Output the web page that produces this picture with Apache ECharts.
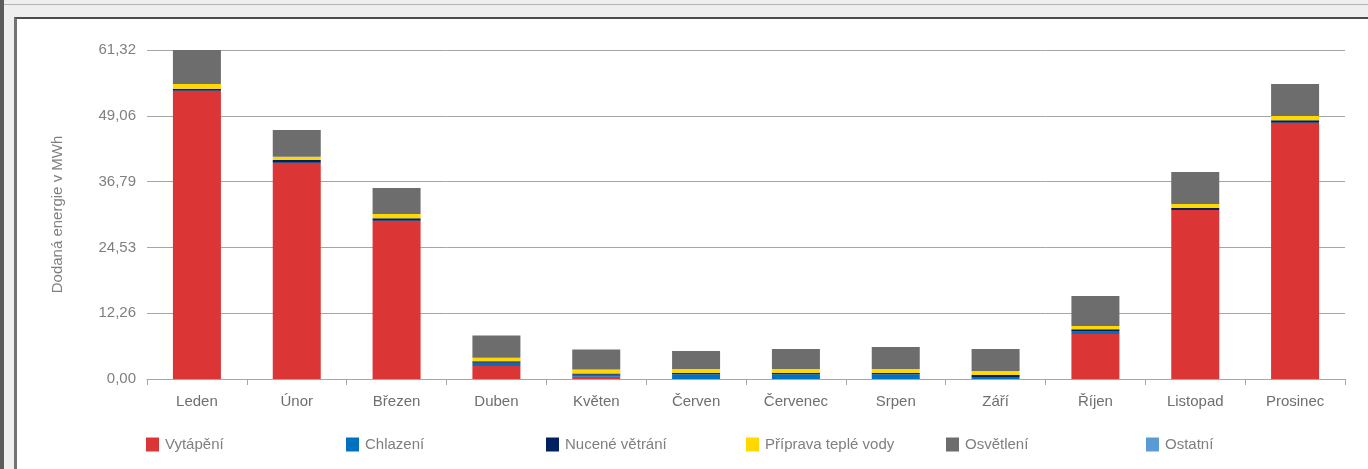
<!DOCTYPE html>
<html lang="cs">
<head>
<meta charset="utf-8">
<title>Dodaná energie v MWh</title>
<script src="https://cdn.jsdelivr.net/npm/echarts@6/dist/echarts.min.js"></script>
<style>
  html, body { margin: 0; padding: 0; width: 1368px; height: 469px; overflow: hidden; background: #efefef; }
  #edgeLeft { position: absolute; left: 0; top: 0; width: 4px; height: 469px; background: #5c5c5c; }
  #edgeTop { position: absolute; left: 4px; top: 4px; width: 1364px; height: 1px; background: #b4b4b4; }
  #panel { position: absolute; left: 14px; top: 17px; right: 0; bottom: 0; background: #fff;
           border-left: 3px solid #737373; border-top: 2px solid #4d4d4d; }
  #chart { position: absolute; left: 0; top: 0; width: 1368px; height: 469px; }
</style>
</head>
<body>
<div id="edgeLeft"></div>
<div id="edgeTop"></div>
<div id="panel"></div>
<div id="chart"></div>
<script>
// Měsíce
const months = ['Leden', 'Únor', 'Březen', 'Duben', 'Květen', 'Červen',
                'Červenec', 'Srpen', 'Září', 'Říjen', 'Listopad', 'Prosinec'];

// Dodaná energie podle účelu [MWh]
const vytapeni      = [53.74, 40.32, 29.50, 2.40, 0.40, 0.00, 0.00, 0.00, 0.00, 8.40, 31.50, 47.77];
const chlazeni      = [0.00, 0.00, 0.00, 0.62, 0.37, 0.90, 0.90, 0.90, 0.37, 0.56, 0.00, 0.00];
const nuceneVetrani = [0.37, 0.50, 0.44, 0.30, 0.25, 0.20, 0.20, 0.20, 0.37, 0.31, 0.37, 0.44];
const pripravaTV    = [0.87, 0.62, 0.80, 0.62, 0.75, 0.75, 0.75, 0.75, 0.75, 0.62, 0.75, 0.80];
const osvetleni     = [6.34, 4.97, 4.85, 4.16, 3.73, 3.35, 3.73, 4.10, 4.10, 5.60, 5.96, 5.96];
const ostatni       = [0, 0, 0, 0, 0, 0, 0, 0, 0, 0, 0, 0];

// Popisky osy Y
const yTickLabels = ['0,00', '12,26', '24,53', '36,79', '49,06', '61,32'];
const yMax = 61.32;
const yStep = yMax / (yTickLabels.length - 1);

const seriesDefs = [
  { name: 'Vytápění',            data: vytapeni,      color: '#dc3535' },
  { name: 'Chlazení',            data: chlazeni,      color: '#0070c0' },
  { name: 'Nucené větrání',      data: nuceneVetrani, color: '#002060' },
  { name: 'Příprava teplé vody', data: pripravaTV,    color: '#ffd800' },
  { name: 'Osvětlení',           data: osvetleni,     color: '#6d6d6d' },
  { name: 'Ostatní',             data: ostatni,       color: '#5b9bd5' }
];

const font = '"Liberation Sans", Arial, sans-serif';
const chart = echarts.init(document.getElementById('chart'), null, { renderer: 'canvas' });

// Legenda: každá položka ve vlastním sloupci s pevným rozestupem
const legends = seriesDefs.map((s, i) => ({
  left: 146 + i * 200,
  top: 437,
  itemWidth: 13,
  itemHeight: 14,
  icon: 'rect',
  selectedMode: false,
  padding: 0,
  textStyle: { color: '#7f7f7f', fontSize: 15, fontFamily: font, padding: [0, 0, 0, 1] },
  data: [s.name]
}));

chart.setOption({
  animation: false,
  backgroundColor: 'transparent',
  textStyle: { fontFamily: font },
  grid: { left: 147, right: 23, top: 50, bottom: 90, containLabel: false },
  legend: legends,
  xAxis: {
    type: 'category',
    data: months,
    axisLine: { lineStyle: { color: '#a6a6a6', width: 1 } },
    axisTick: { show: true, length: 6, lineStyle: { color: '#a6a6a6' } },
    axisLabel: { color: '#6f6f6f', fontSize: 15, margin: 15, fontFamily: font },
    splitLine: { show: false }
  },
  yAxis: {
    type: 'value',
    min: 0,
    max: yMax,
    interval: yStep,
    name: 'Dodaná energie v MWh',
    nameLocation: 'middle',
    nameGap: 82,
    nameTextStyle: { color: '#7f7f7f', fontSize: 15, fontFamily: font },
    axisLine: { show: false },
    axisTick: { show: false },
    axisLabel: {
      color: '#7f7f7f', fontSize: 15, margin: 11, fontFamily: font,
      formatter: v => yTickLabels[Math.round(v / yStep)]
    },
    splitLine: { lineStyle: { color: '#a6a6a6', width: 1 } }
  },
  series: seriesDefs.map(s => ({
    name: s.name,
    type: 'bar',
    stack: 'energie',
    barWidth: 48,
    data: s.data,
    itemStyle: { color: s.color },
    emphasis: { disabled: true }
  }))
});
</script>
</body>
</html>
